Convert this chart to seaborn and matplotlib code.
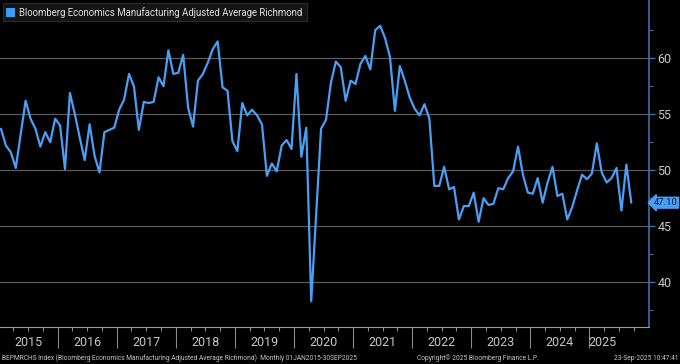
import numpy as np
import pandas as pd
import matplotlib
matplotlib.use("Agg")
import matplotlib.pyplot as plt
import seaborn as sns
from matplotlib.patches import Rectangle

# ---- data (monthly, Jan 2015 .. Sep 2025) ----
values = [
    53.7, 52.2, 51.6, 50.2, 53.2, 56.2, 54.6, 53.7, 52.1, 53.4, 52.5, 54.6,
    54.0, 50.1, 56.9, 55.0, 52.9, 50.9, 54.1, 51.3, 49.8, 53.4, 53.6, 53.8,
    55.4, 56.3, 58.6, 57.5, 53.6, 56.1, 56.0, 56.1, 58.3, 57.5, 60.7, 58.6,
    58.7, 60.3, 55.6, 53.9, 58.0, 58.6, 59.6, 60.8, 61.5, 57.4, 57.1, 52.6,
    51.7, 56.0, 54.9, 55.4, 54.9, 54.1, 49.5, 50.6, 49.9, 52.2, 52.7, 51.9,
    58.6, 51.2, 53.8, 38.3, 46.0, 53.7, 54.5, 57.8, 59.7, 59.2, 56.2, 58.0,
    57.7, 59.5, 60.2, 59.0, 62.5, 62.9, 61.8, 60.1, 55.3, 59.3, 58.0, 56.5,
    55.5, 54.9, 55.9, 54.6, 48.6, 48.6, 50.3, 48.3, 48.5, 45.6, 46.8, 46.8,
    48.0, 45.4, 47.5, 46.9, 47.0, 48.4, 48.3, 49.3, 49.9, 52.1, 49.6, 48.0,
    47.9, 49.3, 47.1, 48.9, 50.3, 47.7, 47.9, 45.6, 46.7, 48.2, 49.6, 49.2,
    49.7, 52.4, 49.8, 48.9, 49.3, 50.2, 46.4, 50.5, 47.1,
]
years = [str(y) for y in range(2015, 2026)]
y_ticks = [40, 45, 50, 55, 60]
series_name = "Bloomberg Economics Manufacturing Adjusted Average Richmond"
last_label = "47.10"

month_idx = np.arange(len(values))
df = pd.DataFrame({"m": month_idx, "v": values})

BG = "#000000"
LINE = "#4a9ff5"
AXIS = "#3f6fa8"
GRID = "#5a5a5a"
TXT = "#c8c8c8"

sns.set_theme(style="dark")
plt.rcParams["font.family"] = ["Roboto", "DejaVu Sans"]

fig = plt.figure(figsize=(6.8, 3.64), dpi=100, facecolor=BG)
ax = fig.add_axes([0.0, 1 - 327 / 364, 649 / 680, 327 / 364])
ax.set_facecolor(BG)

sns.lineplot(data=df, x="m", y="v", ax=ax, color=LINE, linewidth=1.6)

ax.set_xlim(-0.2, 131.6)
ax.set_ylim(36.0, 65.2)

# horizontal grid
for t in y_ticks:
    ax.axhline(t, color=GRID, linewidth=0.9, zorder=0)
ax.grid(False)

# right axis
ax.yaxis.tick_right()
ax.set_yticks(y_ticks)
ax.set_yticklabels([str(t) for t in y_ticks], color=TXT, fontsize=9)
ax.set_yticks(np.arange(37.5, 65, 5), minor=True)
ax.tick_params(axis="y", which="both", right=True, left=False)
ax.tick_params(axis="y", which="major", direction="out", length=4, color=AXIS, pad=2, width=1)
ax.tick_params(axis="y", which="minor", direction="out", length=3, color=AXIS, width=0.8)

for s in ["left", "top"]:
    ax.spines[s].set_visible(False)
ax.spines["right"].set_color(AXIS)
ax.spines["right"].set_linewidth(1.2)
ax.spines["bottom"].set_color("#9a9a9a")
ax.spines["bottom"].set_linewidth(0.8)

# x axis: year separators and quarterly ticks
bounds = [12 * k - 0.5 for k in range(1, 11)]
quarters = [12 * k - 0.5 + 3 * j for k in range(0, 11) for j in (1, 2, 3)]
quarters = [q for q in quarters if q < 131 and q not in bounds]
ax.set_xticks(bounds)
ax.set_xticklabels([])
ax.set_xticks(quarters, minor=True)
ax.tick_params(axis="x", which="both", bottom=True)
ax.tick_params(axis="x", which="major", direction="out", length=15, color="#8a8a8a", width=0.8)
ax.tick_params(axis="x", which="minor", direction="out", length=3, color="#8a8a8a", width=0.8)
ax.set_xlabel("")
ax.set_ylabel("")

label_pos = [5.5 + 12 * k for k in range(10)] + [122.2]
for pos, yr in zip(label_pos, years):
    ax.text(pos, -0.026, yr, transform=ax.get_xaxis_transform(), ha="center", va="top",
            color=TXT, fontsize=9, clip_on=False)

# last value tag
ax.annotate(last_label, xy=(1.0, values[-1]), xycoords=("axes fraction", "data"),
            xytext=(3.5, 0), textcoords="offset points", ha="left", va="center",
            fontsize=6.8, color="#0b1d33",
            bbox=dict(boxstyle="larrow,pad=0.1", fc=LINE, ec=LINE))

# legend box
fig.patches.append(Rectangle((3 / 680, 1 - 21 / 364), 304 / 680, 18 / 364, transform=fig.transFigure,
                             facecolor="#141414", edgecolor="#2a2a2a", linewidth=0.8, zorder=5))
fig.patches.append(Rectangle((6 / 680, 1 - 17 / 364), 9 / 680, 9 / 364, transform=fig.transFigure,
                             facecolor="#3a9cf4", edgecolor="none", zorder=6))
fig.text(19 / 680, 1 - 12.5 / 364, series_name, color="#e0e0e0", fontsize=6.9,
         ha="left", va="center", zorder=7)

# footer
fig.text(2 / 680, 6 / 364, "BEPMRCHS Index (Bloomberg Economics Manufacturing Adjusted Average Richmond)  Monthly 01JAN2015-30SEP2025",
         color=TXT, fontsize=4.8, ha="left", va="center")
fig.text(417 / 680, 6 / 364, "Copyright\u00a9 2025 Bloomberg Finance L.P.", color=TXT, fontsize=4.8,
         ha="left", va="center")
fig.text(678 / 680, 6 / 364, "23-Sep-2025 10:47:41", color=TXT, fontsize=4.8, ha="right", va="center")

fig.savefig("out.png", dpi=100, facecolor=BG)
